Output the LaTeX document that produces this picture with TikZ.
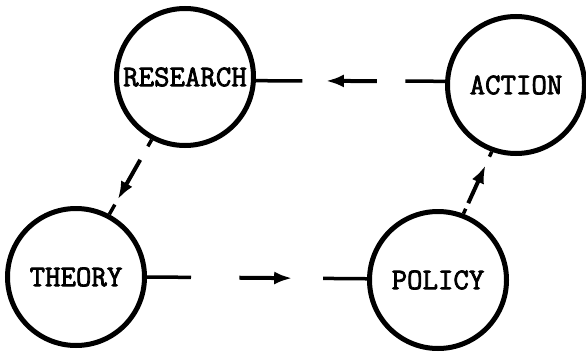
\documentclass[tikz,border=0pt]{standalone}
\usepackage{fontspec}
\newfontfamily\typefont{Latin Modern Mono}[BoldFont={Latin Modern Mono},BoldFeatures={FakeBold=2.5}]
\usetikzlibrary{arrows.meta,calc}
\tikzset{
  stage/.style={circle,draw,line width=5pt,minimum size=137pt,inner sep=0pt,
    font=\typefont\bfseries\fontsize{30}{30}\selectfont},
  link/.style={line width=3.5pt},
  flow/.style={line width=4pt,-{Latex[length=18pt,width=13pt]}},
}
\begin{document}
\begin{tikzpicture}[x=1pt,y=-1pt]
  \useasboundingbox (0,0) rectangle (586,353);
  \node[stage] at (185,77)  (research) {RESEARCH};
  \node[stage] at (516,85)  (action)   {ACTION};
  \node[stage] at (76,277)  (theory)   {THEORY};
  \node[stage] at (438,280) (policy)   {POLICY};
  % end points on the circles
  \coordinate (ar) at (action.177);
  \coordinate (ra) at (research.-3);
  \coordinate (rt) at (research.-118);
  \coordinate (tr) at (theory.62);
  \coordinate (tp) at (theory.0);
  \coordinate (pt) at (policy.179);
  \coordinate (pa) at (policy.69);
  \coordinate (ap) at (action.-110);
  % action -> research
  \draw[link] (ar) -- ($(ar)!0.21!(ra)$);
  \draw[flow] ($(ar)!0.36!(ra)$) -- ($(ar)!0.63!(ra)$);
  \draw[link] ($(ar)!0.755!(ra)$) -- (ra);
  % research -> theory
  \draw[link] (rt) -- ($(rt)!0.09!(tr)$);
  \draw[flow] ($(rt)!0.27!(tr)$) -- ($(rt)!0.8!(tr)$);
  \draw[link] ($(rt)!0.87!(tr)$) -- (tr);
  % theory -> policy
  \draw[link] (tp) -- ($(tp)!0.2!(pt)$);
  \draw[flow] ($(tp)!0.42!(pt)$) -- ($(tp)!0.66!(pt)$);
  \draw[link] ($(tp)!0.8!(pt)$) -- (pt);
  % policy -> action
  \draw[link] (pa) -- ($(pa)!0.08!(ap)$);
  \draw[flow] ($(pa)!0.17!(ap)$) -- ($(pa)!0.78!(ap)$);
  \draw[link] ($(pa)!0.92!(ap)$) -- (ap);
\end{tikzpicture}
\end{document}
